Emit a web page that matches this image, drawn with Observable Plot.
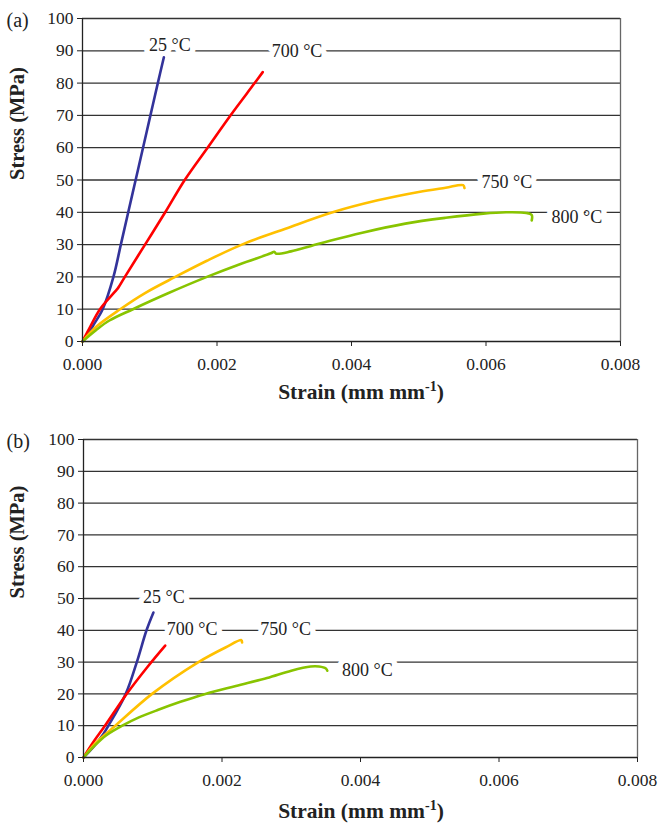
<!DOCTYPE html>
<html>
<head>
<meta charset="utf-8">
<script src="https://cdn.jsdelivr.net/npm/d3@7"></script>
<script src="https://cdn.jsdelivr.net/npm/@observablehq/plot@0.6"></script>
<style>
  html, body { margin: 0; padding: 0; background: white; }
  #wrap { width: 662px; }
  svg { display: block; }
</style>
</head>
<body>
<div id="wrap"><div id="pa"></div><div id="pb"></div></div>
<script>
// ---------- data ----------
const seriesNames = ["25 °C", "700 °C", "750 °C", "800 °C"];
const seriesColors = ["#33339a", "#ff0000", "#ffc000", "#88c400"];
const xTicks = [0, 0.002, 0.004, 0.006, 0.008];
const yTicks = [0, 10, 20, 30, 40, 50, 60, 70, 80, 90, 100];

// panel (a)
const strainA25 = [0, 0.00008, 0.00016, 0.00030, 0.00046, 0.00057, 0.00068, 0.00079, 0.00090, 0.00101, 0.00112, 0.00121];
const stressA25 = [0, 2, 5, 10, 20, 30, 40, 50, 60, 70, 80, 88];
const strainA700 = [0, 0.00010, 0.00026, 0.00049, 0.00053, 0.00063, 0.00093, 0.00123, 0.00152, 0.00186, 0.00220, 0.00256, 0.00268];
const stressA700 = [0, 4, 10, 15.6, 16.6, 20, 30, 40, 50, 60, 70, 80, 83.4];
const strainA750 = [0, 0.00020, 0.00056, 0.00093, 0.00138, 0.00185, 0.00237, 0.00303, 0.00372, 0.00439, 0.00500, 0.00540, 0.00566, 0.00568];
const stressA750 = [0, 4.5, 10, 15, 20, 25, 30, 35, 40, 43.7, 46.3, 47.6, 48.4, 47.5];
const strainA800 = [0, 0.00020, 0.00040, 0.00075, 0.00128, 0.00185, 0.00235, 0.00280, 0.00285, 0.00288, 0.00310, 0.00340, 0.00368, 0.00416, 0.00480, 0.00540, 0.00596, 0.00630, 0.00660, 0.00668, 0.00668];
const stressA800 = [0, 3.5, 6.5, 10, 15, 20, 24, 27.3, 27.8, 27.2, 27.9, 29.6, 31.2, 33.7, 36.5, 38.3, 39.6, 40, 39.8, 39.2, 37.5];

// panel (b)
const strainB25 = [0, 0.00015, 0.00029, 0.00036, 0.00061, 0.00077, 0.00091, 0.00101];
const stressB25 = [0, 3.5, 7.5, 10, 20, 30, 40, 45.6];
const strainB700 = [0, 0.00014, 0.00031, 0.00061, 0.00092, 0.00118];
const stressB700 = [0, 4.8, 10, 19.6, 28.4, 35.2];
const strainB750 = [0, 0.00015, 0.00030, 0.00046, 0.00099, 0.00166, 0.00205, 0.00228, 0.00229];
const stressB750 = [0, 4, 7, 10, 20, 30, 34.6, 36.9, 36.2];
const strainB800 = [0, 0.00015, 0.00033, 0.00056, 0.00080, 0.00108, 0.00140, 0.00176, 0.00220, 0.00265, 0.00300, 0.00328, 0.00340, 0.00350, 0.00352];
const stressB800 = [0, 3.5, 7, 10, 12.6, 15, 17.5, 20, 22.5, 25, 27.3, 28.6, 28.6, 28, 27.3];

// label anchors (data units)
const labelAx = [0.00130, 0.00319, 0.00631, 0.00735];
const labelAy = [91.8, 89.8, 49.3, 38.4];
const labelBx = [0.00116, 0.00157, 0.00292, 0.00410];
const labelBy = [50.3, 40.2, 40.2, 27.4];

// ---------- build ----------
function rows(strains, stresses) {
  const out = [];
  strains.forEach((xs, i) => xs.forEach((x, j) => out.push({series: seriesNames[i], strain: x, stress: stresses[i][j]})));
  return out;
}
const dataA = rows([strainA25, strainA700, strainA750, strainA800], [stressA25, stressA700, stressA750, stressA800]);
const dataB = rows([strainB25, strainB700, strainB750, strainB800], [stressB25, stressB700, stressB750, stressB800]);
const labelsA = seriesNames.map((s, i) => ({text: s, x: labelAx[i], y: labelAy[i]}));
const labelsB = seriesNames.map((s, i) => ({text: s, x: labelBx[i], y: labelBy[i]}));

const FONT = "Liberation Serif";

function panel(data, labels, tag, dims) {
  const chart = Plot.plot({
    width: 662, height: dims.height,
    marginLeft: dims.ml, marginRight: dims.mr, marginTop: dims.mt, marginBottom: dims.mb,
    x: {domain: [0, 0.008]}, y: {domain: [0, 100]},
    color: {domain: seriesNames, range: seriesColors},
    style: {fontFamily: FONT, fontSize: "17px", color: "#222", background: "white"},
    marks: [
      Plot.ruleY(yTicks.filter(d => d > 0), {stroke: "#333", strokeWidth: 1.3}),
      Plot.ruleX([0.008], {stroke: "#666", strokeWidth: 1.3}),
      Plot.text(labels, {x: "x", y: "y", text: "text", fill: "#222", stroke: "white", strokeWidth: 11, paintOrder: "stroke", fontSize: 18}),
      Plot.line(data, {x: "strain", y: "stress", z: "series", stroke: "series", strokeWidth: 2.6, strokeLinejoin: "round", strokeLinecap: "round", curve: "catmull-rom"}),
      Plot.ruleX([0], {stroke: "#222", strokeWidth: 1.3}),
      Plot.ruleY([0], {stroke: "#222", strokeWidth: 1.3}),
      Plot.axisY({ticks: yTicks, tickSize: 5, tickPadding: 4, label: null, fontSize: 17.5}),
      Plot.axisX({ticks: xTicks, tickFormat: d3.format(".3f"), tickSize: 5, tickPadding: dims.tp, label: null, fontSize: 17.5}),
      Plot.text([tag], {frameAnchor: "top-left", text: d => d, textAnchor: "start", lineAnchor: "middle", dx: 6 - dims.ml, dy: 2, fontSize: 20}),
      Plot.text(["Stress (MPa)"], {frameAnchor: "left", text: d => d, rotate: -90, dx: 17 - dims.ml, fontWeight: "bold", fontSize: 20.5})
    ]
  });
  // x-axis title with superscript
  const svg = d3.select(chart);
  const pw = 662 - dims.ml - dims.mr;
  const t = svg.append("text")
    .attr("x", dims.ml + pw / 2 + dims.tx).attr("y", dims.height - dims.mb + dims.ty)
    .attr("text-anchor", "middle").attr("font-weight", "bold")
    .attr("font-size", 21.5).attr("fill", "#222");
  t.append("tspan").text("Strain (mm mm");
  t.append("tspan").attr("dy", -8).attr("font-size", 14).text("-1");
  t.append("tspan").attr("dy", 8).text(")");
  svg.selectAll("text").attr("font-family", FONT).style("font-family", FONT);
  return chart;
}

document.getElementById("pa").appendChild(panel(dataA, labelsA, "(a)", {height: 420, ml: 82, mr: 42, mt: 18, mb: 79, tp: 11, tx: 10, ty: 58}));
document.getElementById("pb").appendChild(panel(dataB, labelsB, "(b)", {height: 411, ml: 83, mr: 25, mt: 19, mb: 74, tp: 11, tx: 1, ty: 61}));
</script>
</body>
</html>
